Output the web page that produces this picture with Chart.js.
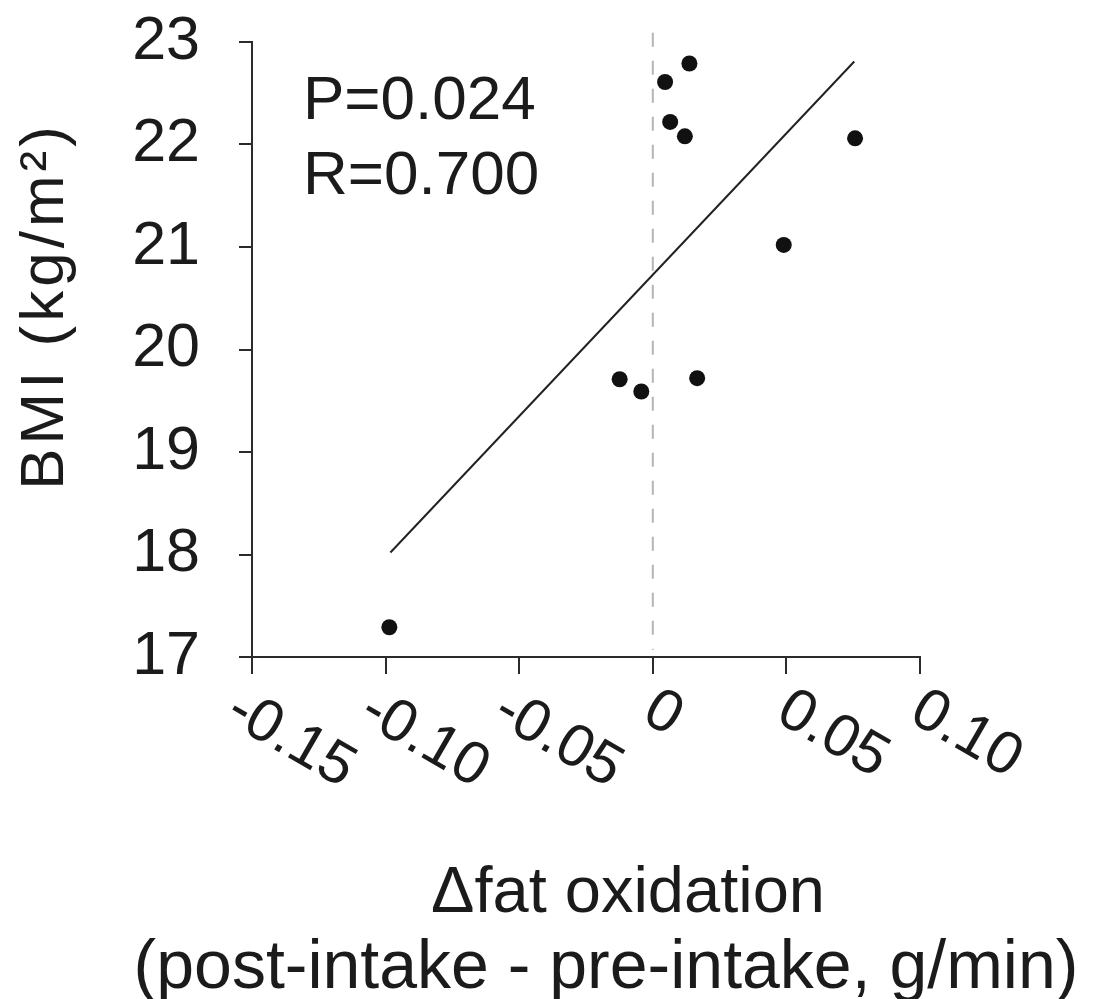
<!DOCTYPE html>
<html>
<head>
<meta charset="utf-8">
<script src="https://cdn.jsdelivr.net/npm/chart.js@4/dist/chart.umd.min.js"></script>
<style>
  html, body { margin: 0; padding: 0; background: #fff; }
  #wrap { width: 1096px; height: 999px; }
</style>
</head>
<body>
<div id="wrap"><canvas id="c" width="1096" height="999"></canvas></div>
<script>
// ---- data ----
const fatOxidation = [-0.0986, -0.0124, -0.0043, 0.0166, 0.0046, 0.0137, 0.0065, 0.0120, 0.0757, 0.0490];
const bmi          = [17.29, 19.71, 19.59, 19.72, 22.61, 22.79, 22.22, 22.08, 22.06, 21.02];
const fitX = [-0.0982, 0.0754];
const fitY = [18.02, 22.81];
const zeroLineX = [0, 0];
const zeroLineY = [23.09, 17.07];
const xTickValues = [-0.15, -0.10, -0.05, 0, 0.05, 0.10];
const xTickLabels = ['-0.15', '-0.10', '-0.05', '0', '0.05', '0.10'];
const yTickValues = [17, 18, 19, 20, 21, 22, 23];
const yTickLabels = ['17', '18', '19', '20', '21', '22', '23'];
const statLines = ['P=0.024', 'R=0.700'];
const xTitleLines = ['\u0394fat oxidation', '(post-intake - pre-intake, g/min)'];
const yTitle = 'BMI (kg/m\u00B2)';

const FONT = '"Liberation Sans", Arial, Helvetica, sans-serif';
const INK = '#1b1b1b';
const AXIS = '#2b2b2b';

const toPts = (xs, ys) => xs.map((x, i) => ({ x: x, y: ys[i] }));

const textPlugin = {
  id: 'textPlugin',
  afterDraw(chart) {
    const ctx = chart.ctx;
    const xs = chart.scales.x;
    ctx.save();
    ctx.fillStyle = INK;

    // x tick labels, rotated clockwise
    ctx.font = '60px ' + FONT;
    ctx.textAlign = 'left';
    ctx.textBaseline = 'alphabetic';
    const ang = 30 * Math.PI / 180;
    xTickValues.forEach((v, i) => {
      const px = xs.getPixelForValue(v);
      const neg = xTickLabels[i].startsWith('-');
      const ax = px - 12.7 - (neg ? 16 : 0);
      const ay = 720;
      ctx.save();
      ctx.translate(ax, ay);
      ctx.rotate(ang);
      ctx.fillText(xTickLabels[i], 0, 0);
      ctx.restore();
    });

    // stats annotation
    ctx.font = '62px ' + FONT;
    ctx.textAlign = 'left';
    ctx.fillText(statLines[0], 303, 119);
    ctx.fillText(statLines[1], 303, 194);

    // x title
    ctx.textAlign = 'center';
    ctx.font = '65px ' + FONT;
    ctx.fillText(xTitleLines[0], 628, 912);
    ctx.font = '68px ' + FONT;
    ctx.fillText(xTitleLines[1], 606, 988);

    // y title
    ctx.font = '62px ' + FONT;
    ctx.save();
    ctx.translate(63, 306);
    ctx.rotate(-Math.PI / 2);
    ctx.textAlign = 'center';
    if ('letterSpacing' in ctx) ctx.letterSpacing = '4px';
    ctx.fillText(yTitle, 0, 0);
    ctx.restore();

    ctx.restore();
  }
};

new Chart(document.getElementById('c'), {
  type: 'scatter',
  data: {
    datasets: [
      {
        label: 'zero',
        type: 'line',
        data: toPts(zeroLineX, zeroLineY),
        borderColor: '#b5b5b5',
        borderWidth: 2,
        borderDash: [14, 14],
        pointRadius: 0,
        fill: false,
        clip: false,
        order: 3
      },
      {
        label: 'fit',
        type: 'line',
        data: toPts(fitX, fitY),
        borderColor: '#222',
        borderWidth: 2,
        pointRadius: 0,
        fill: false,
        order: 2
      },
      {
        label: 'subjects',
        data: toPts(fatOxidation, bmi),
        backgroundColor: '#111',
        borderColor: '#111',
        pointRadius: 8,
        pointBorderWidth: 0,
        order: 1
      }
    ]
  },
  options: {
    responsive: false,
    animation: false,
    devicePixelRatio: 1,
    layout: { padding: { left: 0, top: 42, right: 176, bottom: 0 } },
    plugins: { legend: { display: false }, tooltip: { enabled: false } },
    scales: {
      x: {
        type: 'linear',
        min: -0.15,
        max: 0.10,
        afterBuildTicks: s => { s.ticks = xTickValues.map(v => ({ value: v })); },
        afterFit: s => { s.height = 999 - 657; s.paddingLeft = 0; s.paddingRight = 0; },
        ticks: { display: false },
        grid: { drawOnChartArea: false, drawTicks: true, tickLength: 17, color: AXIS, lineWidth: 2 },
        border: { display: true, color: AXIS, width: 2 }
      },
      y: {
        type: 'linear',
        min: 17,
        max: 23,
        afterBuildTicks: s => { s.ticks = yTickValues.map(v => ({ value: v })); },
        afterFit: s => { s.width = 252; s.paddingTop = 0; s.paddingBottom = 0; },
        ticks: {
          padding: 39,
          color: INK,
          font: { family: FONT, size: 61 },
          callback: (v) => { const i = yTickValues.indexOf(v); return i >= 0 ? yTickLabels[i] : ''; }
        },
        grid: { drawOnChartArea: false, drawTicks: true, tickLength: 13, color: AXIS, lineWidth: 2 },
        border: { display: true, color: AXIS, width: 2 }
      }
    }
  },
  plugins: [textPlugin]
});
</script>
</body>
</html>
